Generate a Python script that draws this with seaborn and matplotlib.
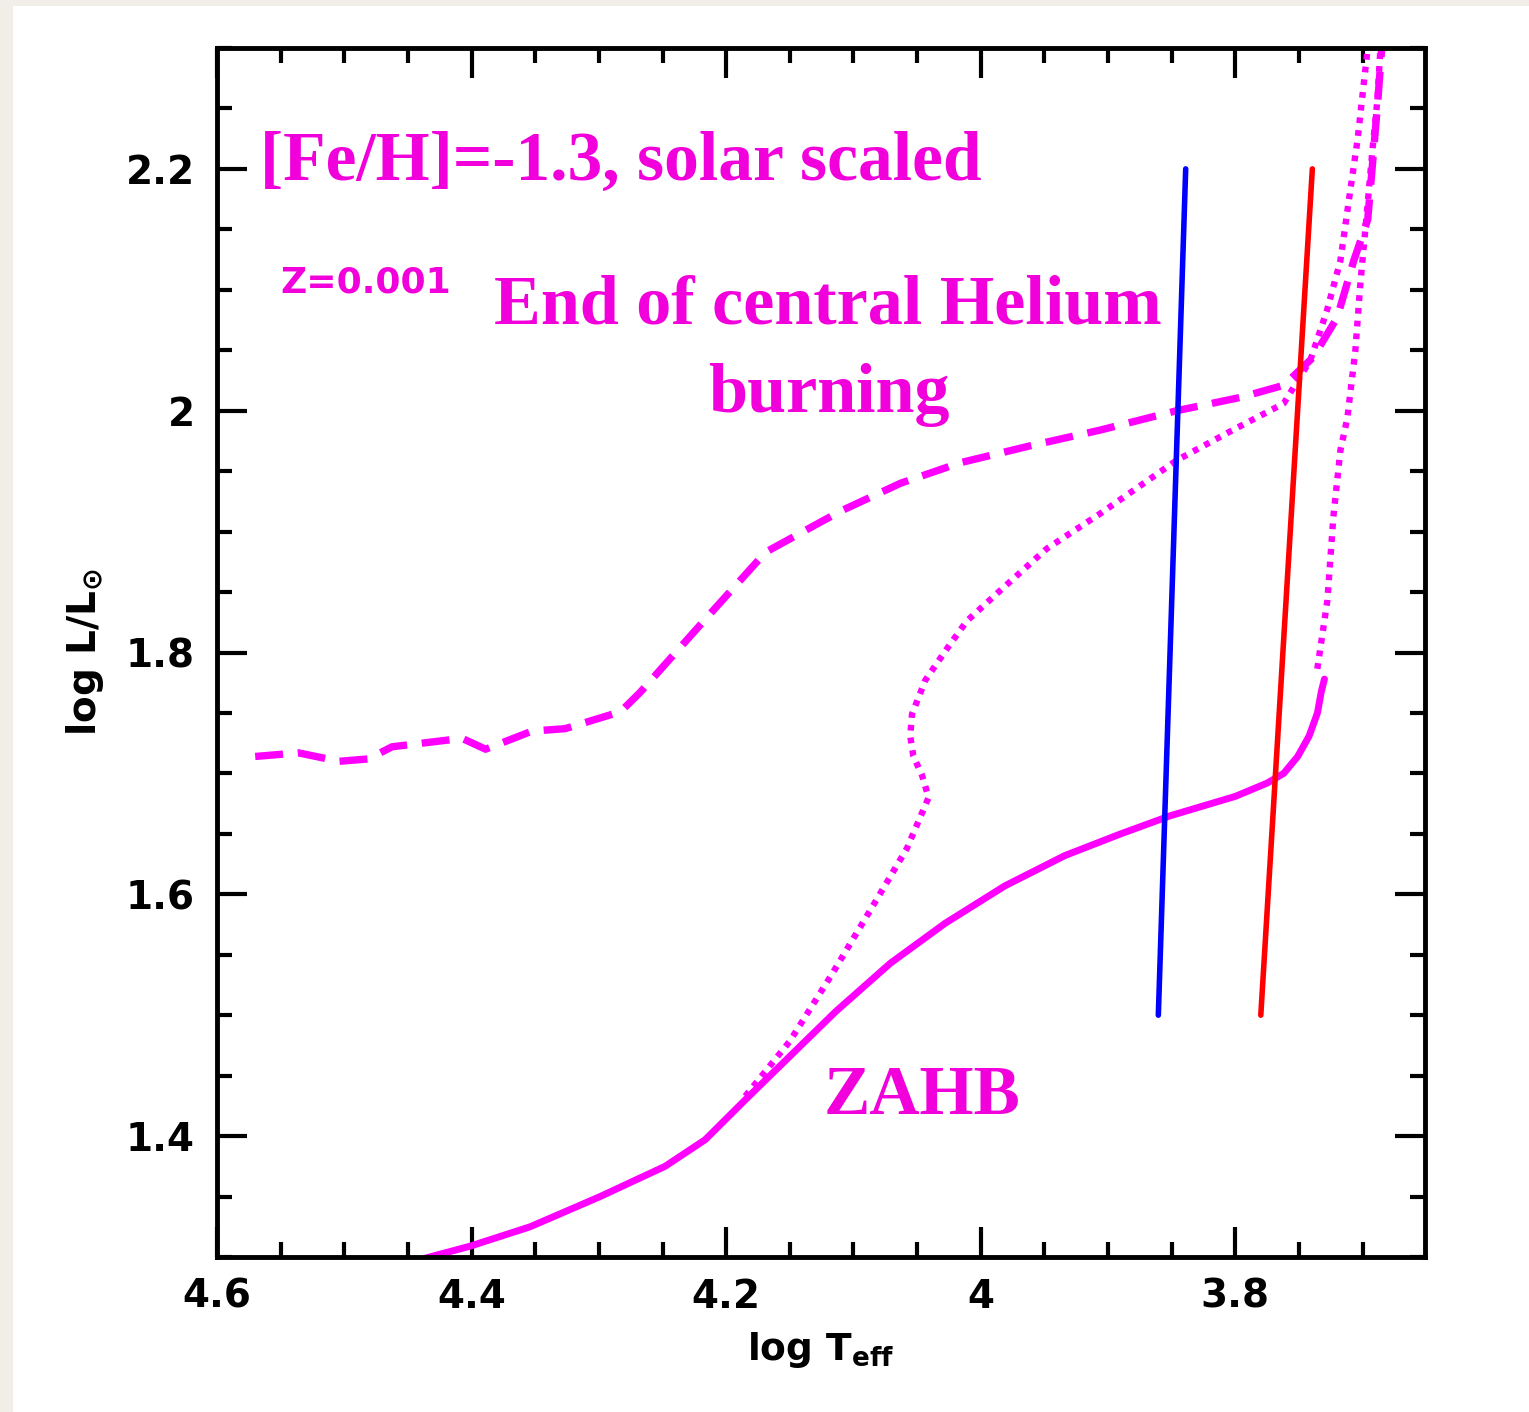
import matplotlib
matplotlib.use("Agg")
import matplotlib.pyplot as plt
import matplotlib.patches as mpatches
from matplotlib.ticker import MultipleLocator
import seaborn as sns

# Zero-age horizontal branch
zahb_logt = [4.4365, 4.401, 4.354, 4.299, 4.248, 4.2165, 4.185, 4.150, 4.114, 4.071,
             4.028, 3.981, 3.934, 3.890, 3.851, 3.800, 3.775, 3.762, 3.751, 3.742,
             3.7355, 3.7324, 3.730]
zahb_logl = [1.299, 1.309, 1.325, 1.350, 1.375, 1.397, 1.430, 1.466, 1.503, 1.543,
             1.576, 1.607, 1.632, 1.650, 1.665, 1.681, 1.692, 1.700, 1.714, 1.731,
             1.750, 1.768, 1.778]

# End of central helium burning
end_logt = [4.570, 4.536, 4.504, 4.481, 4.4625, 4.4075, 4.389, 4.3525, 4.3265, 4.283,
            4.2676, 4.2126, 4.169, 4.110, 4.063, 4.016, 3.961, 3.906, 3.846, 3.796,
            3.762, 3.739, 3.720, 3.707, 3.696, 3.692, 3.688, 3.685]
end_logl = [1.714, 1.717, 1.710, 1.712, 1.722, 1.729, 1.720, 1.735, 1.737, 1.751,
            1.767, 1.832, 1.883, 1.917, 1.940, 1.957, 1.971, 1.984, 2.000, 2.011,
            2.021, 2.044, 2.077, 2.124, 2.158, 2.207, 2.257, 2.300]

# Evolutionary track from the blue ZAHB
trk1_logt = [4.185, 4.150, 4.118, 4.081, 4.058, 4.041, 4.046, 4.053, 4.0554, 4.054,
             4.0436, 4.026, 4.011, 3.985, 3.948, 3.906, 3.846, 3.802, 3.762, 3.741,
             3.728, 3.7175, 3.710, 3.704, 3.696]
trk1_logl = [1.433, 1.4785, 1.532, 1.597, 1.638, 1.680, 1.698, 1.7145, 1.731, 1.749,
             1.777, 1.804, 1.826, 1.851, 1.886, 1.915, 1.959, 1.984, 2.006, 2.042,
             2.083, 2.124, 2.180, 2.224, 2.300]

# Evolutionary track from the red end of the ZAHB
trk2_logt = [3.7356, 3.7277, 3.723, 3.7175, 3.712, 3.7057, 3.7018, 3.697, 3.6923, 3.6884, 3.686]
trk2_logl = [1.7865, 1.843, 1.912, 1.967, 1.994, 2.050, 2.105, 2.160, 2.2155, 2.257, 2.300]

# Instability strip edges
blue_edge_logt = [3.8605, 3.839]
blue_edge_logl = [1.5, 2.2]
red_edge_logt = [3.780, 3.7395]
red_edge_logl = [1.5, 2.2]

x_major = [4.6, 4.4, 4.2, 4.0, 3.8]
x_labels = ["4.6", "4.4", "4.2", "4", "3.8"]
y_major = [1.4, 1.6, 1.8, 2.0, 2.2]
y_labels = ["1.4", "1.6", "1.8", "2", "2.2"]

MAGENTA = "#ff00ff"
TEXT_MAGENTA = "#f200dc"

sns.set_style("ticks")
plt.rcParams["font.family"] = ["DejaVu Sans"]
plt.rcParams["mathtext.fontset"] = "dejavusans"

W, H = 1529, 1412
fig = plt.figure(figsize=(W / 100, H / 100), dpi=100, facecolor="#f1eee8")
card = mpatches.Rectangle((13 / W, 0), 1, 1 - 6 / H, transform=fig.transFigure,
                          facecolor="white", edgecolor="none")
card.set_zorder(-10)
fig.add_artist(card)
ax = fig.add_axes([217 / W, 1 - 1257 / H, (1425 - 217) / W, (1257 - 48) / H])
ax.set_zorder(1)
ax.set_facecolor("white")

kw = dict(sort=False, estimator=None, ax=ax, legend=False)
sns.lineplot(x=end_logt, y=end_logl, color=MAGENTA, lw=5.3, linestyle=(0, (3.8, 2.0)), **kw)
sns.lineplot(x=trk1_logt, y=trk1_logl, color=MAGENTA, lw=4.6, linestyle=(0, (0.9, 1.1)), **kw)
sns.lineplot(x=trk2_logt, y=trk2_logl, color=MAGENTA, lw=4.6, linestyle=(0, (0.9, 1.1)), **kw)
sns.lineplot(x=zahb_logt, y=zahb_logl, color=MAGENTA, lw=5, solid_joinstyle="round", **kw)
sns.lineplot(x=blue_edge_logt, y=blue_edge_logl, color="#0000ff", lw=4, **kw)
sns.lineplot(x=red_edge_logt, y=red_edge_logl, color="#ff0000", lw=4, **kw)

ax.set_xlim(4.6, 3.651)
ax.set_ylim(1.3, 2.3)

ax.set_xticks(x_major)
ax.set_xticklabels(x_labels)
ax.set_yticks(y_major)
ax.set_yticklabels(y_labels)
ax.xaxis.set_minor_locator(MultipleLocator(0.05))
ax.yaxis.set_minor_locator(MultipleLocator(0.05))
ax.tick_params(which="both", direction="in", top=True, right=True, color="black",
               labelcolor="black")
ax.tick_params(which="major", length=21.6, width=3, labelsize=28, pad=15)
ax.tick_params(axis="y", which="major", pad=16)
ax.tick_params(which="minor", length=10.8, width=3)
for lab in ax.get_xticklabels() + ax.get_yticklabels():
    lab.set_fontweight("bold")
for sp in ax.spines.values():
    sp.set_linewidth(3.5)
    sp.set_color("black")

ax.set_xlabel(r"log T$_{\mathbf{eff}}$", fontsize=27, fontweight="bold", color="black",
              labelpad=10)
ax.set_ylabel(r"log L/L$_{\mathbf{\odot}}$", fontsize=28, fontweight="bold", color="black",
              labelpad=14)

serif = dict(family=["Liberation Serif", "DejaVu Serif"], fontweight="bold", color=TEXT_MAGENTA)
ax.text(4.566, 2.1907, "[Fe/H]=-1.3, solar scaled", fontsize=50, ha="left", va="baseline", **serif)
ax.text(4.1198, 2.0723, "End of central Helium", fontsize=50.5, ha="center", va="baseline", **serif)
ax.text(4.1198, 1.9986, "burning", fontsize=50.5, ha="center", va="baseline", **serif)
ax.text(4.1238, 1.418, "ZAHB", fontsize=50, ha="left", va="baseline", **serif)
ax.text(4.5505, 2.098, "Z=0.001", fontsize=26, fontweight="bold", color=TEXT_MAGENTA,
        ha="left", va="baseline")

fig.savefig("out.png", dpi=100, facecolor=fig.get_facecolor())
